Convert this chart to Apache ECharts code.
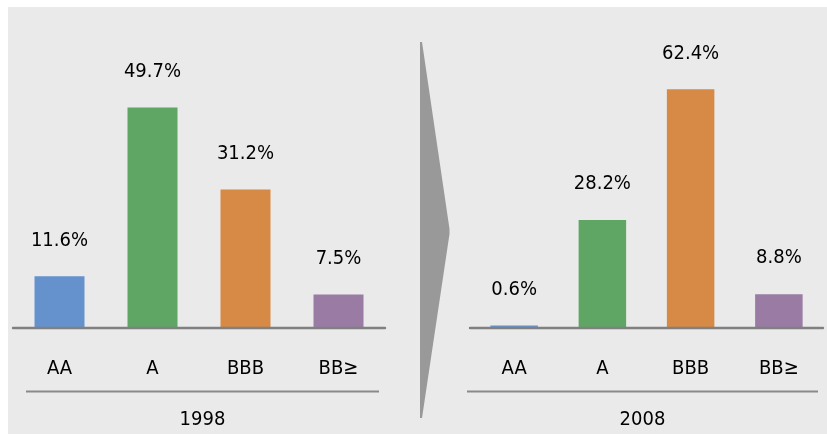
<!DOCTYPE html>
<html>
<head>
<meta charset="utf-8">
<script src="https://cdn.jsdelivr.net/npm/echarts@6/dist/echarts.min.js"></script>
<style>html,body{margin:0;padding:0;background:#fff;}#c{width:827px;height:435px;}</style>
</head>
<body>
<div id="c"></div>
<script>
const categories = ['AA', 'A', 'BBB', 'BB≥'];
const years = ['1998', '2008'];
const values1998 = [11.6, 49.7, 31.2, 7.5];
const values2008 = [0.6, 28.2, 62.4, 8.8];
const barColors = ['#6592CD', '#5FA664', '#D68A45', '#997BA4'];

const FONT = '"DejaVu Sans Condensed", "DejaVu Sans", sans-serif';
const chart = echarts.init(document.getElementById('c'), null, {renderer: 'canvas'});

function xAxisFor(i) {
  return {
    type: 'category', gridIndex: i, data: categories, z: 5,
    axisLine: {show: true, lineStyle: {color: '#808080', width: 2.4}},
    axisTick: {show: false},
    axisLabel: {margin: 31, fontSize: 20, lineHeight: 20, color: '#000', fontFamily: FONT}
  };
}
function yAxisFor(i, max) {
  return {type: 'value', gridIndex: i, min: 0, max: max, show: false, splitLine: {show: false}};
}
function seriesFor(i, vals, bw) {
  return {
    type: 'bar', xAxisIndex: i, yAxisIndex: i, barWidth: bw,
    data: vals.map((v, k) => ({value: v, itemStyle: {color: barColors[k]}})),
    label: {show: true, position: 'top', distance: 26, fontSize: 20, lineHeight: 20,
      color: '#000', fontFamily: FONT, formatter: p => p.value.toFixed(1) + '%'},
    silent: true, animation: false
  };
}

chart.setOption({
  backgroundColor: '#fff',
  animation: false,
  grid: [
    {left: 13, width: 372, top: 61.8, height: 266},
    {left: 470, width: 353, top: 60.3, height: 267.5}
  ],
  xAxis: [xAxisFor(0), xAxisFor(1)],
  yAxis: [yAxisFor(0, 60), yAxisFor(1, 70)],
  series: [seriesFor(0, values1998, 50), seriesFor(1, values2008, 47.5)],
  graphic: [
    {type: 'rect', z: -10, silent: true, shape: {x: 8, y: 7, width: 819, height: 427}, style: {fill: '#EAEAEA'}},
    {type: 'polygon', z: -5, silent: true,
      shape: {points: [[420, 42], [422, 42], [449.5, 229], [449.5, 234], [422, 418], [420, 418]]},
      style: {fill: '#999999'}},
    {type: 'line', silent: true, shape: {x1: 26, y1: 391.5, x2: 379, y2: 391.5}, style: {stroke: '#8A8A8A', lineWidth: 2}},
    {type: 'line', silent: true, shape: {x1: 467, y1: 391.5, x2: 818, y2: 391.5}, style: {stroke: '#8A8A8A', lineWidth: 2}},
    {type: 'text', silent: true, x: 202.5, y: 420, style: {text: years[0], fontSize: 20, fontFamily: FONT, fill: '#000', align: 'center', verticalAlign: 'middle'}},
    {type: 'text', silent: true, x: 642.5, y: 420, style: {text: years[1], fontSize: 20, fontFamily: FONT, fill: '#000', align: 'center', verticalAlign: 'middle'}}
  ]
});
</script>
</body>
</html>
